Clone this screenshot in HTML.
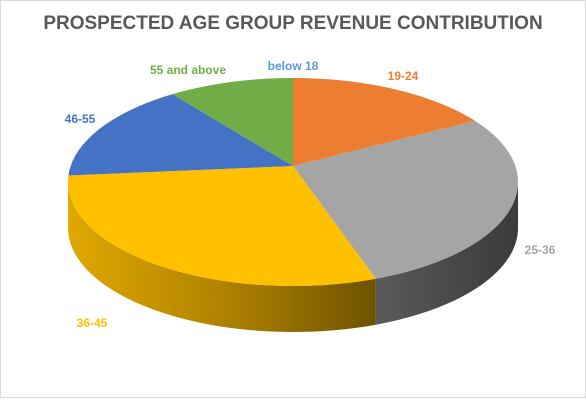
<!DOCTYPE html>
<html><head><meta charset="utf-8"><style>
body{margin:0;background:#fff;font-family:"Liberation Sans",sans-serif}
#wrap{position:relative;width:586px;height:400px;overflow:hidden}
</style></head><body>
<div id="wrap">
<svg id="svg" width="586" height="400">
<defs>
<linearGradient id="ySide" x1="0" x2="1" y1="0" y2="0"><stop offset="0" stop-color="#e0a800"/><stop offset="0.5" stop-color="#b08300"/><stop offset="1" stop-color="#6e5200"/></linearGradient>
<linearGradient id="gSide" x1="0" x2="1" y1="0" y2="0"><stop offset="0" stop-color="#5a5a5a"/><stop offset="1" stop-color="#3a3a3a"/></linearGradient>
</defs>
<rect x="0.5" y="0.5" width="585" height="397" fill="#fff" stroke="#d9d9d9"/>
<text x="293" y="29" text-anchor="middle" font-size="19" font-weight="bold" fill="#595959">PROSPECTED AGE GROUP REVENUE CONTRIBUTION</text>
<g id="sides"></g><g id="tops"></g><g id="labels"></g>
</svg></div>
<script>
const categories=["below 18","19-24","25-36","36-45","46-55","55  and above"];
const values=[0,15,29,32,15,9];
const colors=["#5B9BD5","#ED7D31","#A5A5A5","#FFC000","#4472C4","#70AD47"];
const sideColors=["#3d6e9e","#b45a1e","url(#gSide)","url(#ySide)","#2f5597","#4f7d32"];
const labelPos=[[293,70],[403,80],[540,254],[92,327],[80,123],[188,74]];
const cx=293,cy=182,rx=225,ry=104,depth=46,apexY=166;
const NS="http://www.w3.org/2000/svg";
const total=values.reduce((a,b)=>a+b,0);
function pt(a,dy){return [cx+rx*Math.sin(a),cy-ry*Math.cos(a)+(dy||0)];}
let start=0;
const sides=document.getElementById('sides'),tops=document.getElementById('tops'),labels=document.getElementById('labels');
values.forEach((v,i)=>{
  const sweep=v/total*2*Math.PI,end=start+sweep;
  if(v>0){
    const s=Math.max(start,Math.PI/2),e=Math.min(end,3*Math.PI/2);
    if(e>s){
      let d="";const n=40;
      for(let k=0;k<=n;k++){const p=pt(s+(e-s)*k/n);d+=(k?"L":"M")+p[0]+","+p[1];}
      for(let k=n;k>=0;k--){const p=pt(s+(e-s)*k/n,depth);d+="L"+p[0]+","+p[1];}
      const el=document.createElementNS(NS,'path');
      el.setAttribute('d',d+"Z");el.setAttribute('fill',sideColors[i]);
      
      
      sides.appendChild(el);
    }
    let d=`M${cx},${apexY}`;const n=60;
    for(let k=0;k<=n;k++){const p=pt(start+sweep*k/n);d+="L"+p[0]+","+p[1];}
    const el=document.createElementNS(NS,'path');
    el.setAttribute('d',d+"Z");
    el.setAttribute('fill',colors[i]);
    
    
    tops.appendChild(el);
  }
  const t=document.createElementNS(NS,'text');
  t.setAttribute('x',labelPos[i][0]);t.setAttribute('y',labelPos[i][1]);
  t.setAttribute('text-anchor','middle');t.setAttribute('font-size','12');t.setAttribute('font-weight','bold');
  t.setAttribute('fill',colors[i]);t.setAttribute('xml:space','preserve');
  t.textContent=categories[i];
  
  
  labels.appendChild(t);
  start=end;
});
</script>
</body></html>
